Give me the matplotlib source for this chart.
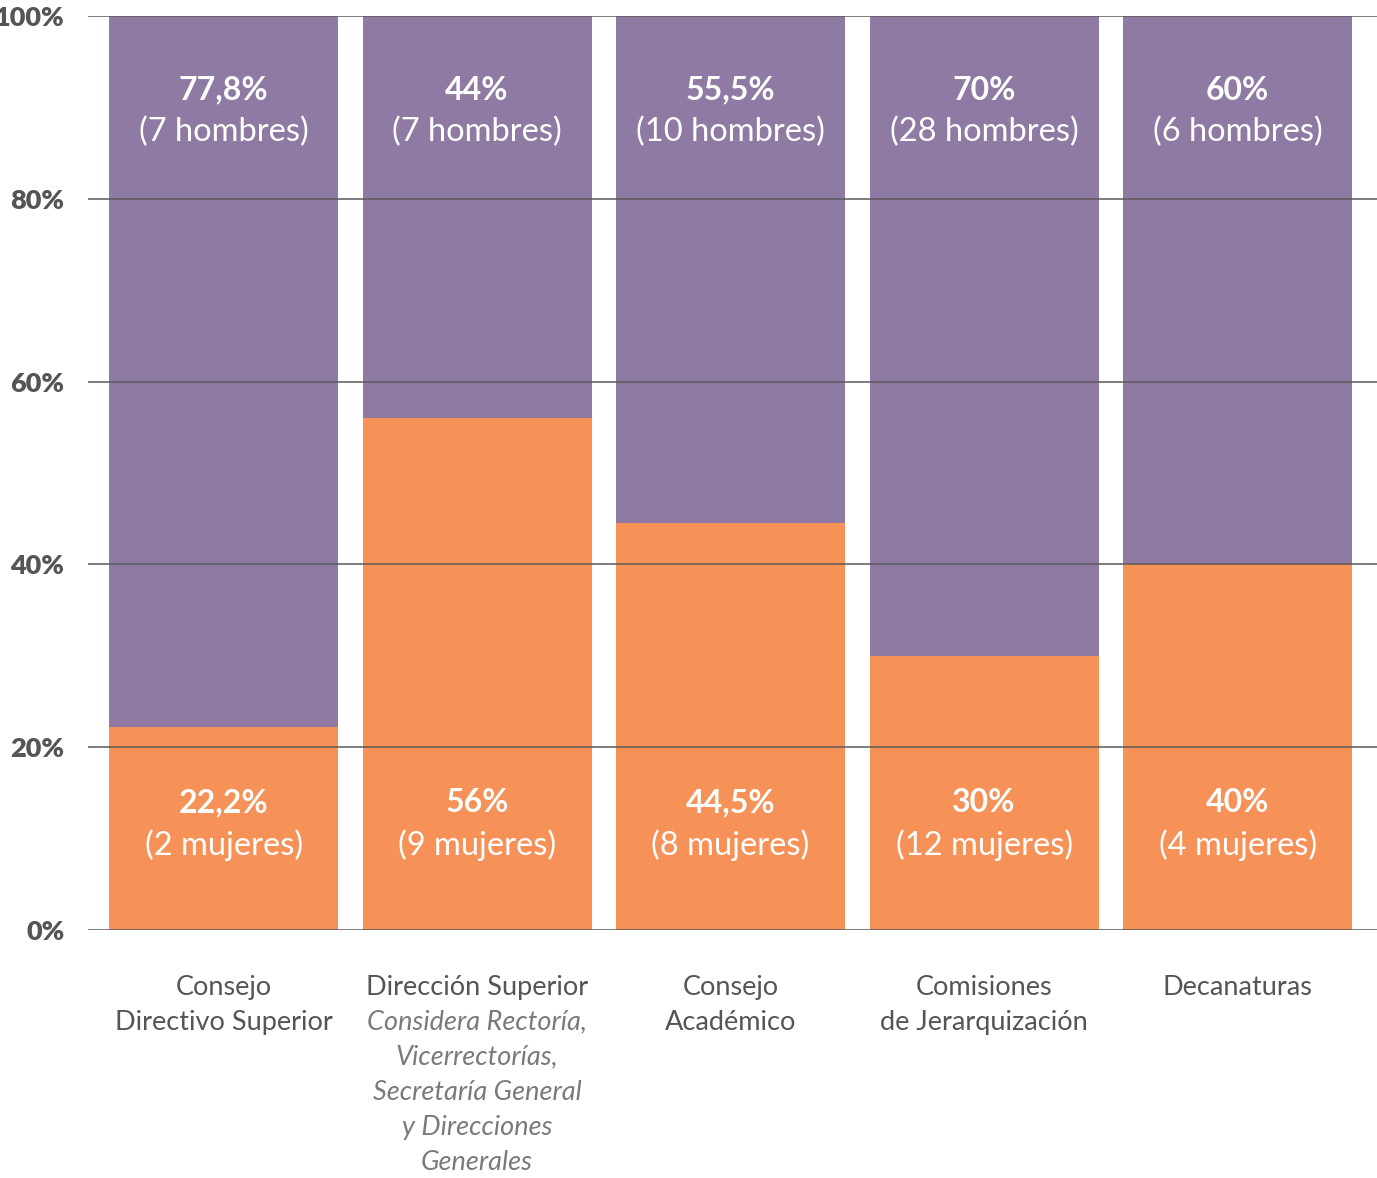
import matplotlib.pyplot as plt
import numpy as np

# Participación por órgano de gobierno (porcentaje y cantidad de personas)
organos = [["Consejo", "Directivo Superior"], ["Dirección Superior"], ["Consejo", "Académico"],
           ["Comisiones", "de Jerarquización"], ["Decanaturas"]]
notas = [[], ["Considera Rectoría,", "Vicerrectorías,", "Secretaría General",
              "y Direcciones", "Generales"], [], [], []]
pct_mujeres = [22.2, 56, 44.5, 30, 40]
pct_hombres = [77.8, 44, 55.5, 70, 60]
n_mujeres = [2, 9, 8, 12, 4]
n_hombres = [7, 7, 10, 28, 6]
y_ticks = [0, 20, 40, 60, 80, 100]

c_mujeres = "#f69158"
c_hombres = "#8e7aa2"
gris = "#555555"

plt.rcParams["font.family"] = ["Lato", "DejaVu Sans"]

fig = plt.figure(figsize=(13.77, 11.78), dpi=100)
ax = fig.add_axes([0.0639, 0.2105, 0.9361, 0.7759])

x = np.arange(len(organos))
ancho = 0.903
ax.bar(x, pct_mujeres, width=ancho, color=c_mujeres, zorder=1)
ax.bar(x, pct_hombres, width=ancho, bottom=pct_mujeres, color=c_hombres, zorder=1)

# gridlines drawn over the bars
for t in y_ticks:
    ax.axhline(t, color="#5a5a5a", lw=1.1, zorder=3)

ax.set_xlim(-0.535, 4.55)
ax.set_ylim(0, 100)
ax.set_yticks(y_ticks)
ax.set_yticklabels([f"{t}%" for t in y_ticks], fontsize=19.5, fontweight="heavy", color=gris)
ax.tick_params(axis="y", length=0, pad=17)
ax.set_xticks([])
for s in ax.spines.values():
    s.set_visible(False)


def fmt(v):
    return f"{v:g}".replace(".", ",") + "%"


for i in x:
    ax.text(i, 91.9, fmt(pct_hombres[i]), ha="center", va="center", color="white",
            fontsize=23, fontweight="bold", zorder=4)
    ax.text(i, 87.3, f"({n_hombres[i]} hombres)", ha="center", va="center", color="white",
            fontsize=23.5, zorder=4)
    ax.text(i, 13.9, fmt(pct_mujeres[i]), ha="center", va="center", color="white",
            fontsize=23, fontweight="bold", zorder=4)
    ax.text(i, 9.3, f"({n_mujeres[i]} mujeres)", ha="center", va="center", color="white",
            fontsize=23.5, zorder=4)

# category labels below the axis, one line at a time
y0, paso = -6.24, 3.83
for i in x:
    fila = 0
    for linea in organos[i]:
        ax.text(i, y0 - paso * fila, linea, ha="center", va="center", color=gris,
                fontsize=19.5, clip_on=False)
        fila += 1
    for linea in notas[i]:
        ax.text(i, y0 - paso * fila, linea, ha="center", va="center", color="#7a7a7a",
                fontsize=19.5, style="italic", clip_on=False)
        fila += 1

fig.savefig("out.png", dpi=100)
